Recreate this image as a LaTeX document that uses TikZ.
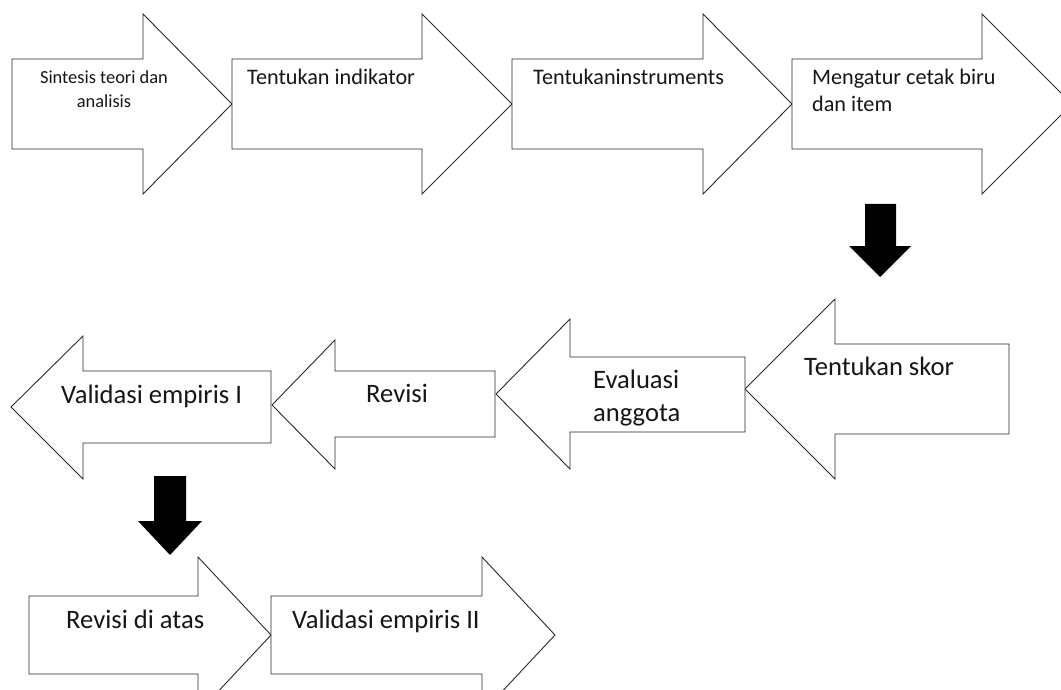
\documentclass[tikz,border=0pt]{standalone}
\usepackage{fontspec}
\setmainfont{Carlito}
\usepackage{xcolor}
\definecolor{Ink}{HTML}{161616}
\definecolor{Edge}{HTML}{2A2A2A}
\definecolor{Panel}{HTML}{FFFFFF}
\tikzset{
  blockarrow/.style={draw=Edge,line width=0.9pt,fill=Panel},
  pusharrow/.style={fill=black,draw=none},
  smalltext/.style={font=\fontsize{18.4}{24}\selectfont,text=Ink,inner sep=0pt},
  midtext/.style={font=\fontsize{22.2}{26.7}\selectfont,text=Ink,inner sep=0pt,anchor=base west},
  bigtext/.style={font=\fontsize{26.6}{33.3}\selectfont,text=Ink,inner sep=0pt,anchor=base west}
}
\begin{document}
\begin{tikzpicture}[x=1pt,y=-1pt]
\path[use as bounding box,fill=Panel] (0,0) rectangle (1061,690);
\clip (0,0) rectangle (1061,690);

% first row, pointing right
\draw[blockarrow] (12,59) -- (143,59) -- (143,14) -- (232,104) -- (143,194) -- (143,149) -- (12,149) -- cycle;
\draw[blockarrow] (232,59) -- (422,59) -- (422,14) -- (512,104) -- (422,194) -- (422,149) -- (232,149) -- cycle;
\draw[blockarrow] (512,59) -- (703,59) -- (703,14) -- (792,104) -- (703,194) -- (703,149) -- (512,149) -- cycle;
\draw[blockarrow] (792,59) -- (982,59) -- (982,14) -- (1072,104) -- (982,194) -- (982,149) -- (792,149) -- cycle;
\node[smalltext,align=center,anchor=base] (sintesis) at (104,107.3) {Sintesis teori dan\\analisis};
\node[midtext] (indikator) at (247,85) {Tentukan indikator};
\node[midtext] (instrumen) at (533,85) {Tentukaninstruments};
\node[midtext,align=left] (cetak) at (812,111.7) {Mengatur cetak biru\\dan item};

% down to the second row
\fill[pusharrow] (865,204) -- (896,204) -- (896,246) -- (911,246) -- (880,277) -- (849,246) -- (865,246) -- cycle;

% second row, pointing left
\draw[blockarrow] (1009,344) -- (835,344) -- (835,299) -- (745,389) -- (835,479) -- (835,434) -- (1009,434) -- cycle;
\draw[blockarrow] (745,357) -- (570,357) -- (570,319) -- (496,394) -- (570,469) -- (570,432) -- (745,432) -- cycle;
\draw[blockarrow] (495,371) -- (335,371) -- (335,340) -- (272,405) -- (335,469) -- (335,437) -- (495,437) -- cycle;
\draw[blockarrow] (271,371) -- (83,371) -- (83,336) -- (11,407) -- (83,479) -- (83,443) -- (271,443) -- cycle;
\node[bigtext] (skor) at (804,375) {Tentukan skor};
\node[bigtext,align=left] (evaluasi) at (593,421.7) {Evaluasi\\anggota};
\node[bigtext] (revisi) at (366,402.7) {Revisi};
\node[bigtext] (validasiI) at (61,403.3) {Validasi empiris I};

% down to the third row
\fill[pusharrow] (154,476) -- (186,476) -- (186,521) -- (202,521) -- (170,555) -- (138,521) -- (154,521) -- cycle;

% third row, pointing right
\draw[blockarrow] (29,596) -- (198,596) -- (198,557) -- (271,635) -- (198,713) -- (198,674) -- (29,674) -- cycle;
\draw[blockarrow] (271,596) -- (482,596) -- (482,557) -- (555,635) -- (482,713) -- (482,674) -- (271,674) -- cycle;
\node[bigtext] (revisiatas) at (66,628.6) {Revisi di atas};
\node[bigtext] (validasiII) at (292,628.6) {Validasi empiris II};
\end{tikzpicture}
\end{document}
